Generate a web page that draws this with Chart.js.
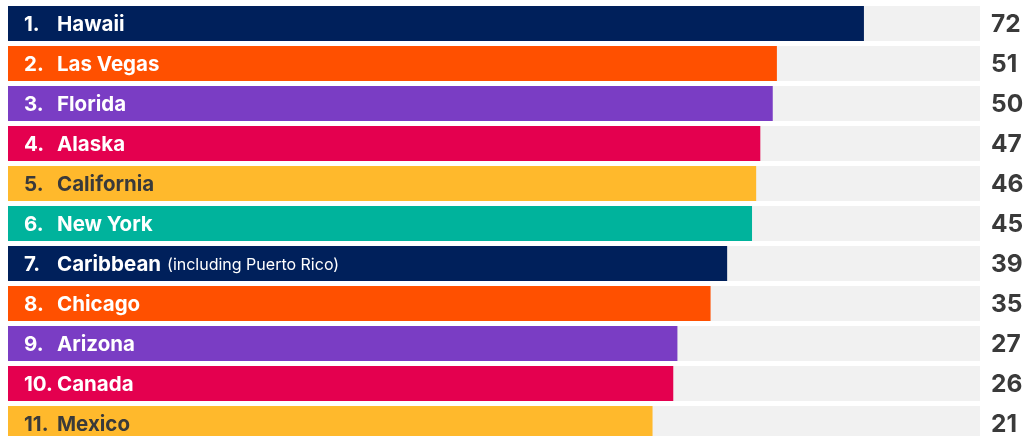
<!DOCTYPE html>
<html>
<head>
<meta charset="utf-8">
<script src="https://cdn.jsdelivr.net/npm/chart.js@4/dist/chart.umd.min.js"></script>
<style>
  html, body { margin: 0; padding: 0; background: #ffffff; overflow: hidden; }
  #wrap { position: relative; width: 1031px; height: 444px; }
</style>
</head>
<body>
<div id="wrap"><canvas id="c"></canvas></div>
<script>
const ranks = ["1.", "2.", "3.", "4.", "5.", "6.", "7.", "8.", "9.", "10.", "11."];
const categories = ["Hawaii", "Las Vegas", "Florida", "Alaska", "California", "New York", "Caribbean", "Chicago", "Arizona", "Canada", "Mexico"];
const notes = ["", "", "", "", "", "", "(including Puerto Rico)", "", "", "", ""];
const values = [72, 51, 50, 47, 46, 45, 39, 35, 27, 26, 21];
const barColors = ["#00205b", "#ff5000", "#7a3dc4", "#e4004f", "#ffb92c", "#00b39c", "#00205b", "#ff5000", "#7a3dc4", "#e4004f", "#ffb92c"];
const textColors = ["#ffffff", "#ffffff", "#ffffff", "#ffffff", "#3a3a3a", "#ffffff", "#ffffff", "#ffffff", "#ffffff", "#ffffff", "#3a3a3a"];
const AXIS_MIN = -134.5;
const AXIS_MAX = 100;

const labelPlugin = {
  id: 'labels',
  afterDatasetsDraw(chart) {
    const ctx = chart.ctx;
    const meta = chart.getDatasetMeta(1);
    const area = chart.chartArea;
    ctx.save();
    ctx.textBaseline = 'middle';
    meta.data.forEach((bar, i) => {
      const y = bar.y + 1;
      ctx.fillStyle = textColors[i];
      ctx.textAlign = 'left';
      ctx.font = 'bold 20.5px Inter, "Open Sans", sans-serif';
      ctx.fillText(ranks[i], area.left + 16, y);
      ctx.fillText(categories[i], area.left + 49, y);
      if (notes[i]) {
        const w = ctx.measureText(categories[i]).width;
        ctx.font = '16px Inter, "Open Sans", sans-serif';
        ctx.fillText(notes[i], area.left + 49 + w + 6, y + 1);
      }
      ctx.fillStyle = '#3a3a3a';
      ctx.font = 'bold 24.5px Inter, "Open Sans", sans-serif';
      ctx.fillText(String(values[i]), area.right + 11, y);
    });
    ctx.restore();
  }
};

new Chart(document.getElementById('c'), {
  type: 'bar',
  data: {
    labels: categories,
    datasets: [
      {
        data: values.map(() => [AXIS_MIN, AXIS_MAX]),
        backgroundColor: '#f1f1f1',
        grouped: false,
        order: 2,
        barPercentage: 1,
        categoryPercentage: 0.875
      },
      {
        data: values.map(v => [AXIS_MIN, v]),
        backgroundColor: barColors,
        grouped: false,
        order: 1,
        barPercentage: 1,
        categoryPercentage: 0.875
      }
    ]
  },
  options: {
    indexAxis: 'y',
    responsive: true,
    maintainAspectRatio: false,
    animation: false,
    layout: { padding: { left: 8, right: 51, top: 3.5, bottom: 0.5 } },
    plugins: { legend: { display: false }, tooltip: { enabled: false } },
    scales: {
      x: { display: false, min: AXIS_MIN, max: AXIS_MAX },
      y: { display: false }
    }
  },
  plugins: [labelPlugin]
});
</script>
</body>
</html>
